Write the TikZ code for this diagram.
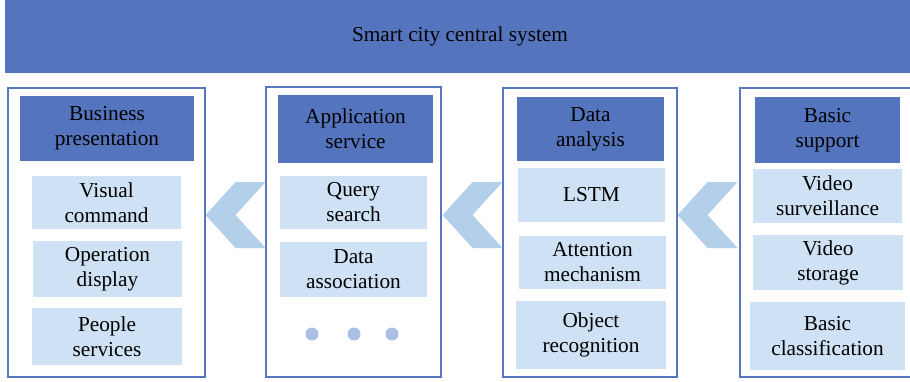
\documentclass[tikz,border=0pt]{standalone}
\usepackage{fontspec}
\setmainfont{Liberation Serif}
\usetikzlibrary{calc}
\definecolor{deepblue}{HTML}{5475BD}
\definecolor{paleblue}{HTML}{CFE1F4}
\definecolor{chevblue}{HTML}{B4CFEA}
\definecolor{dotblue}{HTML}{A9BFE6}
\definecolor{frameblue}{HTML}{5777C0}
\tikzset{
  panel/.style={draw=frameblue, line width=1.1pt, fill=white, rectangle, inner sep=0pt},
  hdr/.style={fill=deepblue, rectangle, inner sep=0pt, align=center, font=\fontsize{21.3}{25}\selectfont},
  item/.style={fill=paleblue, rectangle, inner sep=0pt, align=center, font=\fontsize{21.3}{25}\selectfont},
  chev/.style={fill=chevblue},
  dotmark/.style={fill=dotblue},
}
\begin{document}
\begin{tikzpicture}[x=1pt, y=-1pt]
\useasboundingbox (0,0) rectangle (910,381);

% top banner
\node[fill=deepblue, minimum width=910pt, minimum height=72.5pt, inner sep=0pt,
      font=\fontsize{21.3}{25}\selectfont] (top) at (460,36.25) {Smart city central system};

% four column frames
\node[panel, minimum width=197pt, minimum height=289pt] (p1) at (106.5,232.5) {};
\node[panel, minimum width=175pt, minimum height=290pt] (p2) at (353.5,232) {};
\node[panel, minimum width=174pt, minimum height=289pt] (p3) at (590,232.5) {};
\node[panel, minimum width=175pt, minimum height=289pt] (p4) at (827.5,232.5) {};

% column headings
\node[hdr, minimum width=174pt, minimum height=65pt] (h1) at (107,128.5) {Business\\presentation};
\node[hdr, minimum width=155pt, minimum height=68pt] (h2) at (355.5,129) {Application\\service};
\node[hdr, minimum width=147pt, minimum height=64pt] (h3) at (590.5,129) {Data\\analysis};
\node[hdr, minimum width=145pt, minimum height=66pt] (h4) at (827.5,130) {Basic\\support};

% business presentation items
\node[item, minimum width=149pt, minimum height=53pt] (a1) at (106.5,202.5) {Visual\\command};
\node[item, minimum width=149pt, minimum height=56pt] (a2) at (107.5,269) {Operation\\display};
\node[item, minimum width=150pt, minimum height=57pt] (a3) at (107,336.5) {People\\services};

% application service items
\node[item, minimum width=147pt, minimum height=53pt] (b1) at (353.5,202.5) {Query\\search};
\node[item, minimum width=147pt, minimum height=55pt] (b2) at (353.5,269.5) {Data\\association};
\fill[dotmark] (312,334) circle (6.5pt);
\fill[dotmark] (354,334) circle (6.5pt);
\fill[dotmark] (392,334) circle (6.5pt);

% data analysis items
\node[item, minimum width=147pt, minimum height=54pt] (c1) at (591.5,195) {LSTM};
\node[item, minimum width=147pt, minimum height=53pt] (c2) at (592.5,262.5) {Attention\\mechanism};
\node[item, minimum width=150pt, minimum height=68pt] (c3) at (591,335) {Object\\recognition};

% basic support items
\node[item, minimum width=149pt, minimum height=54pt] (d1) at (827.5,196) {Video\\surveillance};
\node[item, minimum width=150pt, minimum height=55pt] (d2) at (828,262.5) {Video\\storage};
\node[item, minimum width=155pt, minimum height=68pt] (d3) at (827.5,336) {Basic\\classification};

% chevrons pointing leftwards between columns
\fill[chev] ($(p1.east)+(0,-17.5)$) -- ++(30,-33) -- ++(30,0) -- ++(-30,33) -- ++(30,33) -- ++(-30,0) -- cycle;
\fill[chev] ($(p2.east)+(1,-17)$) -- ++(30,-33) -- ++(30,0) -- ++(-30,33) -- ++(30,33) -- ++(-30,0) -- cycle;
\fill[chev] ($(p3.east)+(0,-17.5)$) -- ++(30,-33) -- ++(30,0) -- ++(-30,33) -- ++(30,33) -- ++(-30,0) -- cycle;
\end{tikzpicture}
\end{document}
